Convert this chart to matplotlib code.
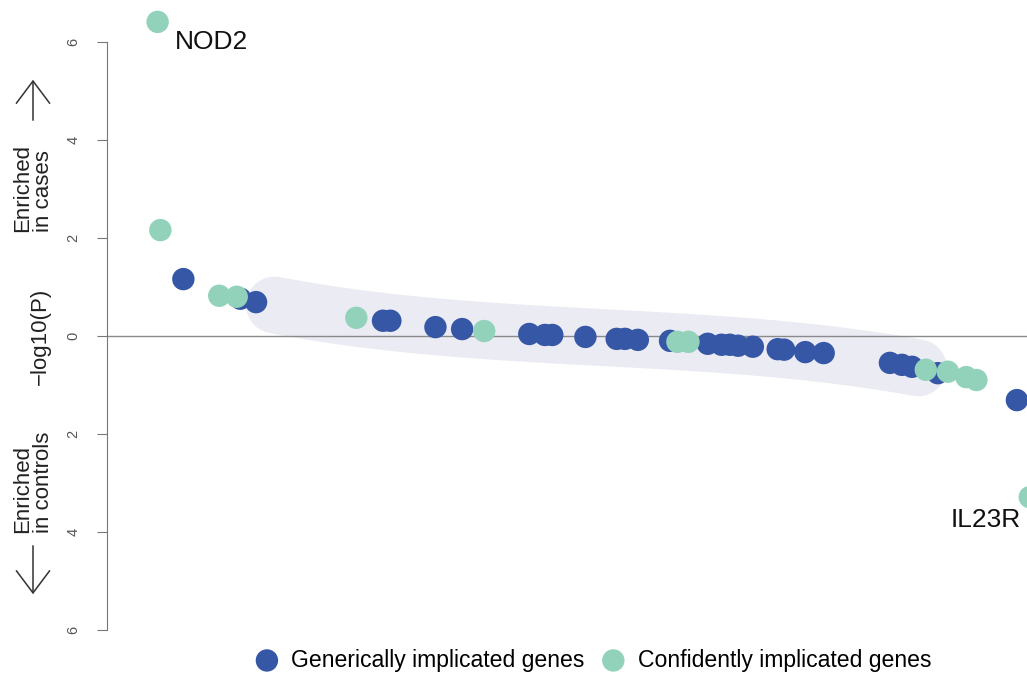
import matplotlib.pyplot as plt
import numpy as np
from matplotlib.patches import FancyArrowPatch

# Gene positions (rank axis) and signed -log10(P)
x_generic = [8.3, 14.5, 16.2, 30.0, 30.8, 35.7, 38.6, 45.9, 47.6, 48.4, 52.0,
             55.4, 56.3, 57.7, 61.2, 65.3, 66.8, 67.7, 68.6, 70.2, 72.9, 73.6,
             75.9, 77.9, 85.1, 86.4, 87.5, 90.3, 98.9]
y_generic = [1.16, 0.76, 0.69, 0.31, 0.31, 0.18, 0.14, 0.04, 0.02, 0.02, -0.02,
             -0.06, -0.06, -0.08, -0.10, -0.16, -0.18, -0.18, -0.20, -0.22, -0.27, -0.28,
             -0.33, -0.35, -0.55, -0.59, -0.63, -0.76, -1.31]
x_confident = [5.5, 5.8, 12.2, 14.1, 27.1, 41.0, 62.0, 63.2, 89.0, 91.4, 93.4, 94.5, 100.3]
y_confident = [6.41, 2.16, 0.82, 0.80, 0.37, 0.10, -0.12, -0.12, -0.69, -0.73, -0.84, -0.90, -3.29]
labels = {'NOD2': (7.4, 6.0), 'IL23R': (91.7, -3.75)}
band_range = (18.2, 88.2)   # x-range of the highlighted "middle" genes

blue = '#3557a6'
teal = '#92d2bb'

plt.rcParams['font.family'] = ['Liberation Sans', 'DejaVu Sans']
fig = plt.figure(figsize=(10.27, 6.73), dpi=100)
ax = fig.add_axes([107 / 1027, 0, 920 / 1027, 1])

# highlight band: smooth fit through the middle genes
bx = np.array(x_generic + x_confident)
by = np.array(y_generic + y_confident)
sel = (bx >= 16) & (bx <= 89.5)
coef = np.polyfit(bx[sel], by[sel], 3)
xs = np.linspace(band_range[0], band_range[1], 100)
ax.plot(xs, np.polyval(coef, xs), color='#ebebf4', lw=41, solid_capstyle='round',
        zorder=1)

ax.axhline(0, color='#8a8a8a', lw=1, zorder=2)
ax.scatter(x_generic, y_generic, s=260, c=blue, edgecolors='none', zorder=3)
ax.scatter(x_confident, y_confident, s=260, c=teal, edgecolors='none', zorder=4)

for name, (lx, ly) in labels.items():
    ax.text(lx, ly, name, fontsize=19, ha='left', va='center', color='#111111')

ax.set_xlim(0, 100)
ax.set_ylim(-6.88, 6.857)
for s in ['top', 'right', 'bottom']:
    ax.spines[s].set_visible(False)
ax.spines['left'].set_bounds(-6, 6)
ax.spines['left'].set_color('#777777')
ax.set_xticks([])
ticks = [-6, -4, -2, 0, 2, 4, 6]
ax.set_yticks(ticks)
ax.set_yticklabels([str(abs(t)) for t in ticks], rotation=90, va='center',
                   fontsize=10.5, color='#555555')
ax.tick_params(axis='y', length=7, color='#777777', pad=12)

# side labels
fig.text(40 / 1027, 1 - 336 / 673, '\u2212log10(P)', rotation=90, ha='center',
         va='center', fontsize=16, color='#222222')
fig.text(33 / 1027, 1 - 188 / 673, 'Enriched\nin cases', rotation=90, ha='center',
         va='center', multialignment='left', fontsize=16, color='#222222',
         linespacing=1.0)
fig.text(33 / 1027, 1 - 482 / 673, 'Enriched\nin controls', rotation=90, ha='center',
         va='center', multialignment='left', fontsize=16, color='#222222',
         linespacing=1.0)
for y0, y1 in [(123, 77), (543, 597)]:
    arr = FancyArrowPatch((33 / 1027, 1 - y0 / 673), (33 / 1027, 1 - y1 / 673),
                          transform=fig.transFigure, arrowstyle='->,head_length=0.8,head_width=0.6',
                          mutation_scale=20, color='#333333', lw=1.1)
    fig.patches.append(arr)

h1 = ax.scatter([], [], s=260, c=blue, edgecolors='none')
h2 = ax.scatter([], [], s=260, c=teal, edgecolors='none')
fig.legend([h1, h2], ['Generically implicated genes', 'Confidently implicated genes'],
           loc='center', bbox_to_anchor=(0.572, 1 - 660 / 673), ncol=2, frameon=False,
           fontsize=16.6, handletextpad=0.05, columnspacing=0.25, borderpad=0)

fig.savefig('out.png', dpi=100)
